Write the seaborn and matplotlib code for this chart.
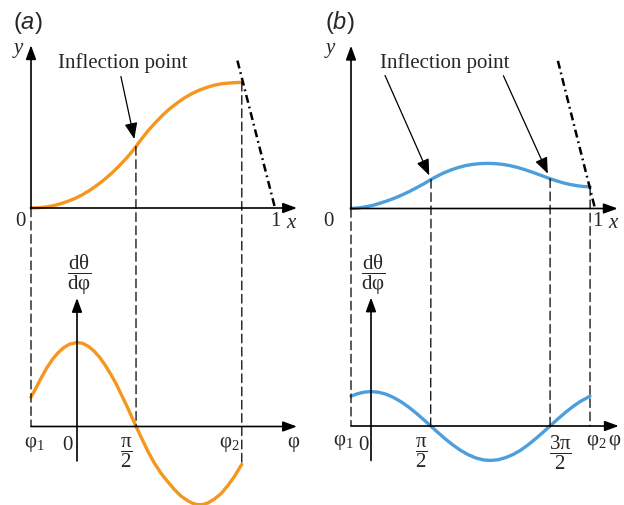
import matplotlib
matplotlib.use("Agg")
import matplotlib.pyplot as plt
from matplotlib.patches import ConnectionPatch
import seaborn as sns

sns.set_theme(style="white")
plt.rcParams["font.family"] = ["Liberation Serif", "DejaVu Serif"]
plt.rcParams["mathtext.fontset"] = "custom"
plt.rcParams["mathtext.rm"] = "Liberation Serif"
plt.rcParams["mathtext.it"] = "Liberation Serif:italic"
plt.rcParams["mathtext.bf"] = "Liberation Serif:bold"
plt.rcParams["mathtext.sf"] = "Liberation Sans:italic"

ORANGE = "#F5961E"
BLUE = "#4C9FDC"

# ---------------- panel (a): single inflection ----------------
top_a_x = [0.00, 0.03, 0.06, 0.09, 0.12, 0.15, 0.18, 0.21, 0.24, 0.27, 0.30, 0.33,
           0.36, 0.39, 0.41, 0.43, 0.45, 0.48, 0.51, 0.54, 0.57, 0.60, 0.63, 0.66,
           0.69, 0.72, 0.75, 0.78, 0.81, 0.84, 0.864]
top_a_y = [0.000, 0.001, 0.004, 0.009, 0.017, 0.027, 0.039, 0.054, 0.072, 0.093,
           0.116, 0.142, 0.171, 0.203, 0.226, 0.252, 0.279, 0.317, 0.350, 0.381,
           0.408, 0.431, 0.452, 0.469, 0.483, 0.494, 0.503, 0.509, 0.512, 0.514, 0.515]
tangent_a_x = [0.846, 1.0]
tangent_a_y = [0.604, 0.0]

der_a_phi = [-1.223, -1.10, -0.95, -0.80, -0.65, -0.50, -0.35, -0.20, 0.00, 0.15,
             0.30, 0.45, 0.60, 0.75, 0.90, 1.05, 1.20, 1.35, 1.571, 1.72, 1.88, 2.05,
             2.24, 2.42, 2.59, 2.77, 2.95, 3.08, 3.20, 3.34, 3.48, 3.65, 3.83, 4.00,
             4.18, 4.383]
der_a_val = [0.35, 0.45, 0.58, 0.70, 0.80, 0.88, 0.94, 0.98, 1.00, 0.99, 0.955, 0.90,
             0.825, 0.73, 0.62, 0.50, 0.36, 0.22, 0.00, -0.14, -0.29, -0.43, -0.56,
             -0.66, -0.75, -0.83, -0.885, -0.915, -0.93, -0.93, -0.91, -0.865, -0.80,
             -0.71, -0.60, -0.45]
ticks_a_idx = [0, 8, 18, 35]
ticks_a_lbl = [r"$\mathrm{φ}_{1}$", "0", r"$\dfrac{\mathrm{π}}{2}$", r"$\mathrm{φ}_{2}$"]
guides_a = [(0, 0), (15, 18), (30, 35)]          # (top index, bottom index)
arrows_a = [(15, (-15, 70), 5.5)]                # (top index, tail offset px, gap pt)

# ---------------- panel (b): two inflections ----------------
top_b_x = [0.00, 0.03, 0.06, 0.09, 0.12, 0.15, 0.18, 0.21, 0.24, 0.27, 0.30, 0.328,
           0.35, 0.38, 0.41, 0.44, 0.47, 0.50, 0.53, 0.56, 0.59, 0.62, 0.65, 0.68,
           0.71, 0.74, 0.77, 0.80, 0.816, 0.84, 0.87, 0.90, 0.93, 0.955, 0.98]
top_b_y = [0.000, 0.002, 0.007, 0.013, 0.022, 0.032, 0.043, 0.056, 0.070, 0.086,
           0.102, 0.119, 0.131, 0.146, 0.158, 0.168, 0.176, 0.181, 0.184, 0.185,
           0.184, 0.181, 0.176, 0.169, 0.160, 0.150, 0.139, 0.128, 0.122, 0.114,
           0.105, 0.098, 0.093, 0.090, 0.089]
tangent_b_x = [0.848, 1.0]
tangent_b_y = [0.605, 0.0]

der_b_phi = [-0.526, -0.35, -0.18, 0.00, 0.20, 0.40, 0.60, 0.80, 1.00, 1.20, 1.40,
             1.571, 1.75, 1.95, 2.15, 2.35, 2.55, 2.75, 2.95, 3.14, 3.34, 3.54, 3.74,
             3.94, 4.14, 4.34, 4.54, 4.712, 4.90, 5.10, 5.30, 5.50, 5.763]
der_b_val = [0.355, 0.385, 0.403, 0.410, 0.402, 0.378, 0.338, 0.286, 0.222, 0.149,
             0.070, 0.000, -0.073, -0.152, -0.224, -0.288, -0.340, -0.379, -0.403,
             -0.410, -0.402, -0.377, -0.339, -0.288, -0.222, -0.149, -0.070, 0.000,
             0.077, 0.155, 0.227, 0.290, 0.355]
ticks_b_idx = [0, 3, 11, 27, 32]
ticks_b_lbl = [r"$\mathrm{φ}_{1}$", "0", r"$\dfrac{\mathrm{π}}{2}$",
               r"$\dfrac{3\mathrm{π}}{2}$", r"$\mathrm{φ}_{2}$"]
guides_b = [(0, 0), (11, 11), (28, 27), (34, 32)]
arrows_b = [(11, (-46, 104), 3.2), (28, (-46.7, 103), 4.0)]

# ---------------- figure layout (pixel based) ----------------
W, H = 624, 506
fig = plt.figure(figsize=(W / 100, H / 100), dpi=100)


def make_axes(left, top, width, height, ox, oy, sx, sy):
    ax = fig.add_axes([left / W, 1 - (top + height) / H, width / W, height / H])
    ax.set_xlim((left - ox) / sx, (left + width - ox) / sx)
    ax.set_ylim((oy - (top + height)) / sy, (oy - top) / sy)
    ax.axis("off")
    return ax


ax_ta = make_axes(0, 0, 312, 240, 31, 209, 244, 244)
ax_ba = make_axes(0, 240, 312, 266, 77, 427.5, 37.6, 84)
ax_tb = make_axes(312, 0, 312, 240, 351, 209.5, 244, 244)
ax_bb = make_axes(312, 240, 312, 266, 371, 427, 38.0, 84)

AXIS_ARROW = dict(arrowstyle="-|>,head_length=0.6,head_width=0.22", mutation_scale=14,
                  lw=1.2, color="black", shrinkA=0, shrinkB=0)


def axis_arrow(ax, start, end):
    ax.annotate("", xy=end, xytext=start, arrowprops=AXIS_ARROW, annotation_clip=False)


def label(ax, text, xy, offset, size=15, **kw):
    ax.annotate(text, xy=xy, xytext=offset, textcoords="offset pixels",
                ha="center", va="center", fontsize=size, annotation_clip=False, **kw)


def draw_top(ax, xs, ys, tx, ty, color, x_tip, lbl_off, arrows):
    axis_arrow(ax, (0, 0), (x_tip, 0))
    axis_arrow(ax, (0, 0), (0, 0.667))
    sns.lineplot(x=xs, y=ys, ax=ax, color=color, lw=2.4, sort=False,
                 estimator=None, legend=False)
    ax.plot(tx, ty, color="black", lw=1.8, linestyle=(0, (3.2, 1.6, 0.7, 1.6)))
    label(ax, "0", (0, 0), lbl_off["0"])
    label(ax, "1", (1, 0), lbl_off["1"])
    label(ax, "$x$", (x_tip, 0), lbl_off["x"])
    label(ax, "$y$", (0, 0.667), lbl_off["y"])
    # arrows pointing at the inflection points
    for idx, tail, gap in arrows:
        ax.annotate("", xy=(xs[idx], ys[idx]), xytext=tail, textcoords="offset pixels",
                    arrowprops=dict(arrowstyle="-|>,head_length=0.7,head_width=0.28",
                                    mutation_scale=14, lw=0.9, color="black",
                                    shrinkA=0, shrinkB=gap))


def draw_bottom(ax, phi, val, color, phi_tip, tick_idx, tick_lbl, tick_off, phi_off):
    axis_arrow(ax, (phi[0], 0), (phi_tip, 0))
    axis_arrow(ax, (0, -0.41), (0, 1.53))
    sns.lineplot(x=phi, y=val, ax=ax, color=color, lw=2.4, sort=False,
                 estimator=None, legend=False)
    for i, t, off in zip(tick_idx, tick_lbl, tick_off):
        label(ax, t, (phi[i], 0), off)
    label(ax, r"$\mathrm{φ}$", (phi_tip, 0), phi_off)
    label(ax, r"$\dfrac{\mathrm{d}\mathrm{θ}}{\mathrm{d}\mathrm{φ}}$", (0, 1.53), (2, 24),
          size=15)


def guides(ax_top, ax_bot, tx, ty, bphi, bval, pairs):
    for it, ib in pairs:
        con = ConnectionPatch(xyA=(tx[it], ty[it]), coordsA="data", axesA=ax_top,
                              xyB=(bphi[ib], min(0.0, bval[ib])), coordsB="data",
                              axesB=ax_bot, color="black", lw=0.9,
                              linestyle=(0, (7, 3.6)))
        fig.add_artist(con)


# panel (a)
draw_top(ax_ta, top_a_x, top_a_y, tangent_a_x, tangent_a_y, ORANGE, 1.09,
         {"0": (-10.5, -13), "1": (0, -13), "x": (-5, -15), "y": (-12, -4)}, arrows_a)
draw_bottom(ax_ba, der_a_phi, der_a_val, ORANGE, 5.85, ticks_a_idx, ticks_a_lbl,
            [(3, -17), (-9.5, -18), (-9.5, -25.5), (-12, -17)], (-3, -17))
guides(ax_ta, ax_ba, top_a_x, top_a_y, der_a_phi, der_a_val, guides_a)
fig.text(122.5 / W, 1 - 63 / H, "Inflection point", ha="center", va="center", fontsize=15)

# panel (b)
draw_top(ax_tb, top_b_x, top_b_y, tangent_b_x, tangent_b_y, BLUE, 1.093,
         {"0": (-23, -12.5), "1": (2, -12.5), "x": (-4, -14.5), "y": (-20, -4)}, arrows_b)
draw_bottom(ax_bb, der_b_phi, der_b_val, BLUE, 6.52, ticks_b_idx, ticks_b_lbl,
            [(-8, -16), (-8, -18), (-9, -25.5), (10, -25.5), (6, -16)], (-4, -16))
guides(ax_tb, ax_bb, top_b_x, top_b_y, der_b_phi, der_b_val, guides_b)
fig.text(444.7 / W, 1 - 63 / H, "Inflection point", ha="center", va="center", fontsize=15)

# panel letters
fig.text(28 / W, 1 - 23 / H, r"($\mathsf{a}$)", ha="center", va="center",
         fontsize=17, family="Liberation Sans")
fig.text(340 / W, 1 - 23 / H, r"($\mathsf{b}$)", ha="center", va="center",
         fontsize=17, family="Liberation Sans")

fig.savefig("out.png", dpi=100)
